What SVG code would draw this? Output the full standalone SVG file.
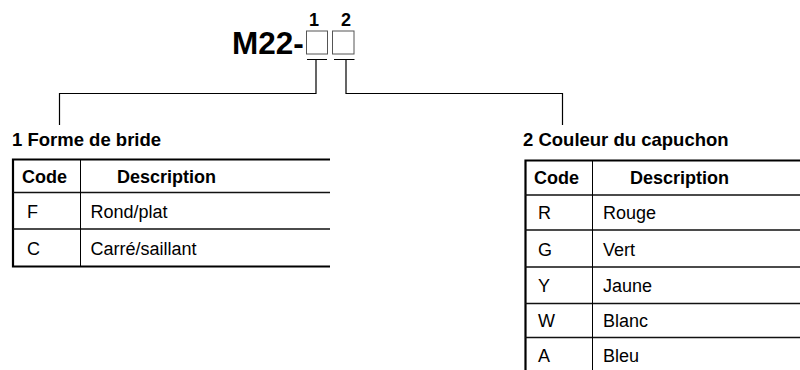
<svg xmlns="http://www.w3.org/2000/svg" width="800" height="370" viewBox="0 0 800 370">
<style>
text{font-family:"Liberation Sans",Arial,sans-serif;fill:#000}
.b{font-weight:bold}
.t{font-size:18.5px}
.c{font-size:18px}
.conn{stroke:#000;stroke-width:1.2;fill:none}
.box{stroke:#555;stroke-width:1;fill:#fff}
.outer{stroke:#000;stroke-width:2.2;fill:none}
.row{stroke:#111;stroke-width:1.6;fill:none}
.col{stroke:#000;stroke-width:1;fill:none}
</style>
<rect width="800" height="370" fill="#fff"/>
<g id="code">
<text x="232" y="54" class="b" font-size="31.5">M22-</text>
<rect class="box" x="306.5" y="31" width="21" height="23"/>
<rect class="box" x="332.5" y="31" width="21.5" height="23"/>
<text x="314" y="26" class="b" font-size="18" text-anchor="middle">1</text>
<text x="346" y="26" class="b" font-size="18" text-anchor="middle">2</text>
</g>
<g id="connectors">
<path class="conn" d="M307,59.5H327M316,59.5V93.5H59.5V125"/>
<path class="conn" d="M334,59.5H354.5M346,59.5V93.5H562.5V125"/>
</g>
<g id="table1">
<text x="12" y="146" class="b t">1 Forme de bride</text>
<path class="outer" d="M330,159.5H13V266.5H330"/>
<path class="row" d="M13,192.5H330M13,229H330"/>
<path class="col" d="M80.5,159.5V266.5"/>
<text x="22" y="182.5" class="b c">Code</text>
<text x="117" y="182.5" class="b c">Description</text>
<text x="27" y="217.5" class="c">F</text>
<text x="90.5" y="217.5" class="c">Rond/plat</text>
<text x="27" y="254.5" class="c">C</text>
<text x="90.5" y="254.5" class="c">Carré/saillant</text>
</g>
<g id="table2">
<text x="523" y="146" class="b t">2 Couleur du capuchon</text>
<path class="outer" d="M800,160.5H525.5V372"/>
<path class="row" d="M525,195H800M525,230H800M525,267H800M525,303.5H800M525,337.5H800"/>
<path class="col" d="M592.5,160.5V372"/>
<text x="534" y="184" class="b c">Code</text>
<text x="630" y="184" class="b c">Description</text>
<text x="538" y="219" class="c">R</text>
<text x="603" y="219" class="c">Rouge</text>
<text x="538" y="255.5" class="c">G</text>
<text x="603" y="255.5" class="c">Vert</text>
<text x="538" y="292" class="c">Y</text>
<text x="603" y="292" class="c">Jaune</text>
<text x="538" y="327" class="c">W</text>
<text x="603" y="327" class="c">Blanc</text>
<text x="538" y="362" class="c">A</text>
<text x="603" y="362" class="c">Bleu</text>
</g>
</svg>
